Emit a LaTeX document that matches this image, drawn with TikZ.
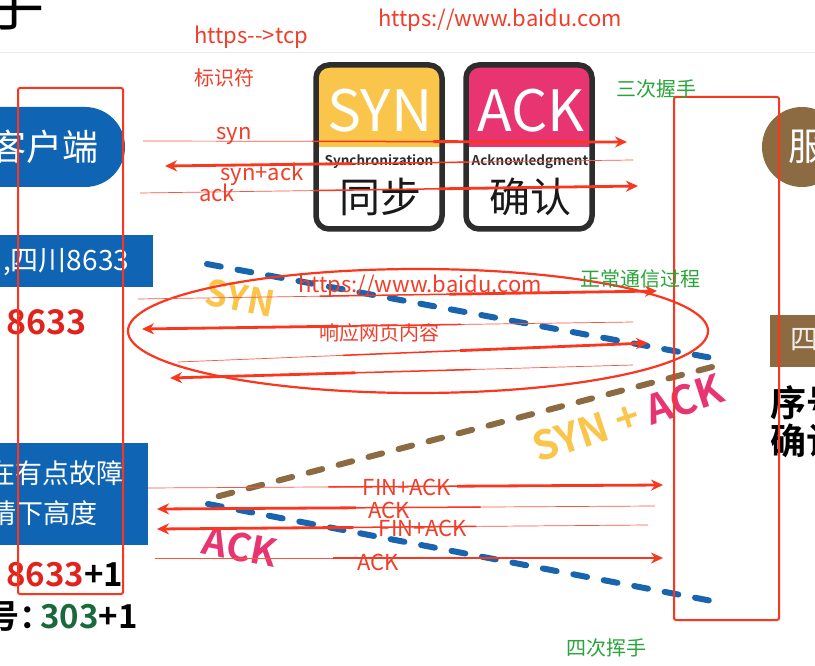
\documentclass[tikz,border=0pt]{standalone}
\usepackage{fontspec}
\setmainfont{Noto Sans CJK SC}[BoldFont={Noto Sans CJK SC Bold}]
\usetikzlibrary{arrows.meta,calc}
\definecolor{annred}{RGB}{250,55,30}
\definecolor{txtred}{RGB}{240,62,42}
\definecolor{anngreen}{RGB}{42,165,58}
\definecolor{slideblue}{RGB}{16,100,180}
\definecolor{dashblue}{RGB}{25,100,175}
\definecolor{brownc}{RGB}{140,106,66}
\definecolor{synyellow}{RGB}{250,197,75}
\definecolor{ackpink}{RGB}{232,52,112}
\definecolor{cardborder}{RGB}{45,45,45}
\definecolor{darkgreen}{RGB}{25,105,60}
\definecolor{numred}{RGB}{225,35,30}
\newcommand\myfs[1]{\fontsize{#1}{#1}\selectfont}
\tikzset{
  tapA/.style={draw=annred!85, line width=0.7pt},
  tapB/.style={draw=annred, line width=1.5pt},
  tapC/.style={draw=annred, line width=2.8pt, -{Stealth[length=12pt,width=11pt]}},
  lbl/.style={text=txtred, font=\myfs{22}, inner sep=0pt},
  cnlbl/.style={text=txtred, font=\myfs{20}, inner sep=0pt},
  grlbl/.style={text=anngreen, font=\myfs{20}, inner sep=0pt},
  dashline/.style={line width=6pt, line cap=round, dash pattern=on 14pt off 17pt},
  redframe/.style={draw=annred, line width=2pt, rounded corners=2pt},
  cardtitle/.style={text=white, font=\myfs{57}, inner sep=0pt},
  cardsub/.style={text=cardborder, font=\bfseries\myfs{13.5}, inner sep=0pt},
  cardcn/.style={text=black!90, font=\myfs{41}, inner sep=0pt},
  slidetext/.style={text=white, inner sep=0pt, anchor=west},
}
\newcommand\tarrow[2]{%
  \draw[tapA] (#1) -- ($(#1)!0.40!(#2)$);
  \draw[tapB] ($(#1)!0.35!(#2)$) -- ($(#1)!0.65!(#2)$);
  \draw[tapC] ($(#1)!0.60!(#2)$) -- (#2);}
\begin{document}
\begin{tikzpicture}[x=1pt,y=-1pt]
\useasboundingbox (0,0) rectangle (815,666);
\clip (0,0) rectangle (815,666);
\fill[white] (0,0) rectangle (815,666);
% faint slide edge and title fragment
\draw[black!8, line width=1pt] (0,53) -- (815,53);
\node[font=\myfs{60}, inner sep=0pt] (title) at (14,3) {手};

% ---- left slide fragments
\fill[slideblue, rounded corners=40pt] (-80,107) rectangle (125,187);
\node[slidetext, font=\myfs{36}] (client) at (-10,147) {客户端};
\fill[slideblue] (-10,235) rectangle (153,287);
\node[slidetext, font=\myfs{28}] (place) at (3,262) {,四川8633};
\node[anchor=west, inner sep=0pt, text=numred, font=\bfseries\myfs{34}] (seq) at (6,322) {8633};
\fill[slideblue] (-10,443) rectangle (148,545);
\node[slidetext, font=\myfs{27}] (fault1) at (-12,473) {在有点故障};
\node[slidetext, font=\myfs{27}] (fault2) at (-11,513) {请下高度};
\node[anchor=west, inner sep=0pt, font=\bfseries\myfs{33}] (seq1) at (6,575) {\textcolor{numred}{8633}+1};
\node[anchor=west, inner sep=0pt, font=\bfseries\myfs{33}] (ack1) at (-14,617) {号：\hspace{-12pt}\textcolor{darkgreen}{303}+1};

% ---- right slide fragments
\fill[brownc] (802,147) circle[radius=40pt];
\node[text=white, font=\myfs{38}, inner sep=0pt] (server) at (807,147) {服};
\fill[brownc] (770,315) rectangle (830,367);
\node[text=white!88!brownc, font=\myfs{28}, inner sep=0pt] (four) at (804,340) {四};
\node[anchor=west, inner sep=0pt, font=\bfseries\myfs{36}] (xuhao) at (770,403) {序号};
\node[anchor=west, inner sep=0pt, font=\bfseries\myfs{36}] (queren) at (770,441) {确认};

% ---- SYN card
\fill[white, rounded corners=13pt] (316,65) rectangle (442,229);
\begin{scope}
  \clip[rounded corners=13pt] (316,65) rectangle (442,229);
  \fill[synyellow] (316,65) rectangle (442,147);
\end{scope}
\draw[cardborder, line width=5.5pt, rounded corners=13pt] (316,65) rectangle (442,229);
\node[cardtitle] (syn) at (380,111) {SYN};
\node[cardsub] (synsub) at (379,162) {Synchronization};
\node[cardcn] (syncn) at (380,197) {同步};

% ---- ACK card
\fill[white, rounded corners=13pt] (466,65) rectangle (592,229);
\begin{scope}
  \clip[rounded corners=13pt] (466,65) rectangle (592,229);
  \fill[ackpink] (466,65) rectangle (592,147);
\end{scope}
\draw[cardborder, line width=5.5pt, rounded corners=13pt] (466,65) rectangle (592,229);
\node[cardtitle] (ack) at (531,111) {ACK};
\node[cardsub] (acksub) at (530,162) {Acknowledgment};
\node[cardcn] (ackcn) at (530,197) {确认};

% ---- dashed handshake lines
\coordinate (b1s) at (207,264); \coordinate (b1e) at (712,358);
\coordinate (brs) at (712,367); \coordinate (bre) at (208,499);
\coordinate (b2s) at (208,504); \coordinate (b2e) at (712,601);
\draw[dashline, dashblue] (b1s) -- (b1e);
\draw[dashline, brownc] (brs) -- (bre);
\draw[dashline, dashblue] (b2s) -- (b2e);
\node[rotate=-11, text=synyellow, font=\bfseries\myfs{36}, inner sep=0pt] (synlbl) at (240,298) {SYN};
\node[rotate=18, font=\bfseries\myfs{40}, inner sep=0pt] (synacklbl) at (628,418) {\textcolor{synyellow}{SYN +} \textcolor{ackpink}{ACK}};
\node[rotate=-11, text=ackpink, font=\bfseries\myfs{38}, inner sep=0pt] (acklbl) at (240,547) {ACK};

% ---- red annotation frames
\draw[redframe] (18,88) rectangle (123,594);
\draw[redframe] (674,97) rectangle (779,620);
\draw[annred, line width=2.2pt] (418,331) ellipse [x radius=290pt, y radius=62pt];

% ---- arrows
\coordinate (a1t) at (143,141); \coordinate (a1h) at (627,142);
\coordinate (a2t) at (633,160); \coordinate (a2h) at (165,166);
\coordinate (a3t) at (140,193); \coordinate (a3h) at (638,186);
\coordinate (a4t) at (138,299); \coordinate (a4h) at (657,291);
\coordinate (a5t) at (633,322); \coordinate (a5h) at (142,329);
\coordinate (a6t) at (178,362); \coordinate (a6h) at (648,343);
\coordinate (a7t) at (633,365); \coordinate (a7h) at (170,378);
\coordinate (a8t) at (148,488); \coordinate (a8h) at (663,485);
\coordinate (a9t) at (655,506); \coordinate (a9h) at (157,509);
\coordinate (a10t) at (648,525); \coordinate (a10h) at (157,529);
\coordinate (a11t) at (155,558); \coordinate (a11h) at (663,558);
\tarrow{a1t}{a1h}
\tarrow{a2t}{a2h}
\tarrow{a3t}{a3h}
\tarrow{a4t}{a4h}
\tarrow{a5t}{a5h}
\tarrow{a6t}{a6h}
\tarrow{a7t}{a7h}
\tarrow{a8t}{a8h}
\tarrow{a9t}{a9h}
\tarrow{a10t}{a10h}
\tarrow{a11t}{a11h}

% ---- labels
\node[lbl] (l1) at (251,37) {https-{}->tcp};
\node[cnlbl] (l2) at (224,78) {标识符};
\node[lbl] (l3) at (500,20) {https://www.baidu.com};
\node[grlbl] (l4) at (656,89) {三次握手};
\node[lbl] (l5) at (234,136) {syn};
\node[lbl] (l6) at (262,174) {syn+ack};
\node[lbl] (l7) at (217,193) {ack};
\node[lbl] (l8) at (420,286) {https://www.baidu.com};
\node[grlbl] (l9) at (640,279) {正常通信过程};
\node[cnlbl] (l10) at (379,333) {响应网页内容};
\node[lbl] (l11) at (407,487) {FIN+ACK};
\node[lbl] (l12) at (389,510) {ACK};
\node[lbl] (l13) at (423,528) {FIN+ACK};
\node[lbl] (l14) at (378,562) {ACK};
\node[grlbl] (l15) at (606,648) {四次挥手};
\end{tikzpicture}
\end{document}
